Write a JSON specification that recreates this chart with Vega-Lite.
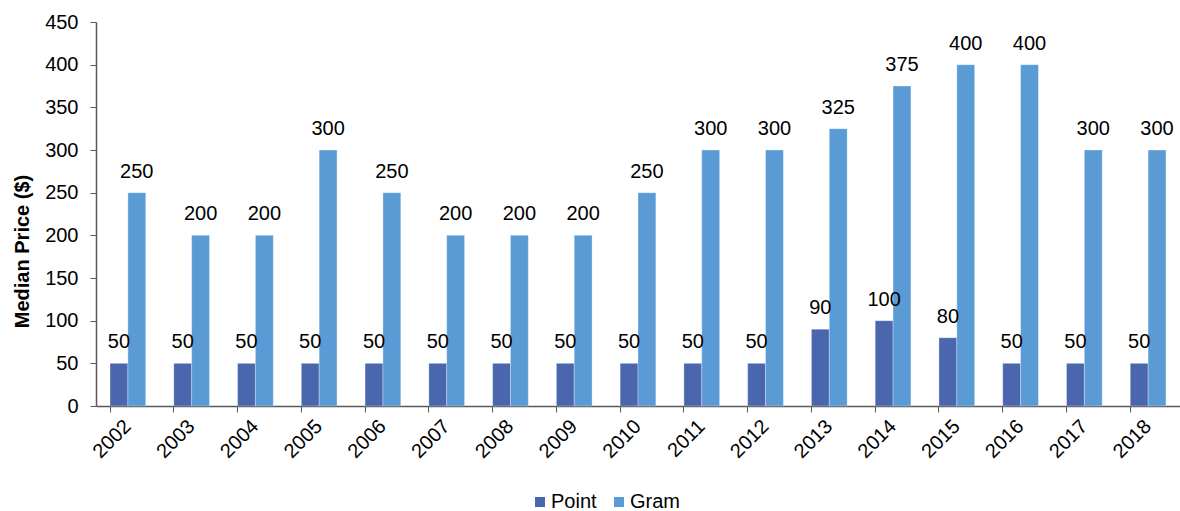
{
  "$schema": "https://vega.github.io/schema/vega-lite/v6.json",
  "width": 1084,
  "height": 384,
  "autosize": {"type": "none"},
  "padding": {"left": 96, "top": 22, "right": 0, "bottom": 105},
  "background": "white",
  "config": {
    "font": "Liberation Sans",
    "view": {"stroke": null},
    "axis": {"grid": false, "domainColor": "#595959", "tickColor": "#595959", "labelColor": "#000000", "labelFont": "Liberation Sans", "labelFontSize": 20, "titleFont": "Liberation Sans"}
  },
  "data": {
    "values": [
      {"year": "2002", "type": "Point", "price": 50}, {"year": "2002", "type": "Gram", "price": 250},
      {"year": "2003", "type": "Point", "price": 50}, {"year": "2003", "type": "Gram", "price": 200},
      {"year": "2004", "type": "Point", "price": 50}, {"year": "2004", "type": "Gram", "price": 200},
      {"year": "2005", "type": "Point", "price": 50}, {"year": "2005", "type": "Gram", "price": 300},
      {"year": "2006", "type": "Point", "price": 50}, {"year": "2006", "type": "Gram", "price": 250},
      {"year": "2007", "type": "Point", "price": 50}, {"year": "2007", "type": "Gram", "price": 200},
      {"year": "2008", "type": "Point", "price": 50}, {"year": "2008", "type": "Gram", "price": 200},
      {"year": "2009", "type": "Point", "price": 50}, {"year": "2009", "type": "Gram", "price": 200},
      {"year": "2010", "type": "Point", "price": 50}, {"year": "2010", "type": "Gram", "price": 250},
      {"year": "2011", "type": "Point", "price": 50}, {"year": "2011", "type": "Gram", "price": 300},
      {"year": "2012", "type": "Point", "price": 50}, {"year": "2012", "type": "Gram", "price": 300},
      {"year": "2013", "type": "Point", "price": 90}, {"year": "2013", "type": "Gram", "price": 325},
      {"year": "2014", "type": "Point", "price": 100}, {"year": "2014", "type": "Gram", "price": 375},
      {"year": "2015", "type": "Point", "price": 80}, {"year": "2015", "type": "Gram", "price": 400},
      {"year": "2016", "type": "Point", "price": 50}, {"year": "2016", "type": "Gram", "price": 400},
      {"year": "2017", "type": "Point", "price": 50}, {"year": "2017", "type": "Gram", "price": 300},
      {"year": "2018", "type": "Point", "price": 50}, {"year": "2018", "type": "Gram", "price": 300}
    ]
  },
  "encoding": {
    "x": {
      "field": "year", "type": "nominal", "title": null,
      "scale": {"paddingInner": 0.44, "paddingOuter": 0.22},
      "axis": {"labelAngle": -45, "labelAlign": "right", "labelBaseline": "middle", "bandPosition": 0, "tickSize": 6, "labelPadding": 11, "domainWidth": 1.5}
    },
    "xOffset": {"field": "type", "type": "nominal", "sort": ["Point", "Gram"], "scale": {"paddingInner": 0}},
    "y": {
      "field": "price", "type": "quantitative",
      "scale": {"domain": [0, 450], "nice": false},
      "axis": {"values": [0, 50, 100, 150, 200, 250, 300, 350, 400, 450], "title": "Median Price ($)", "titleFontSize": 20, "titleFontWeight": "bold", "titleX": -64, "titleY": 229, "tickSize": 6, "labelPadding": 12, "domainWidth": 1.5}
    }
  },
  "layer": [
    {
      "mark": {"type": "bar", "stroke": "#ffffff", "strokeWidth": 0.5, "strokeOpacity": 0.6},
      "encoding": {
        "color": {
          "field": "type", "type": "nominal", "sort": ["Point", "Gram"],
          "scale": {"domain": ["Point", "Gram"], "range": ["#4A66AC", "#5B9BD5"]},
          "legend": {"title": null, "orient": "none", "direction": "horizontal", "legendX": 434, "legendY": 470, "symbolType": "square", "symbolSize": 100, "symbolOpacity": 1, "symbolStrokeWidth": 0, "labelFontSize": 20, "labelColor": "#000000", "columnPadding": 12, "labelOffset": 1, "padding": 0, "labelLimit": 300}
        }
      }
    },
    {
      "mark": {"type": "text", "baseline": "alphabetic", "dy": -15, "fontSize": 20, "color": "#000000"},
      "encoding": {"text": {"field": "price", "type": "quantitative"}}
    }
  ]
}
